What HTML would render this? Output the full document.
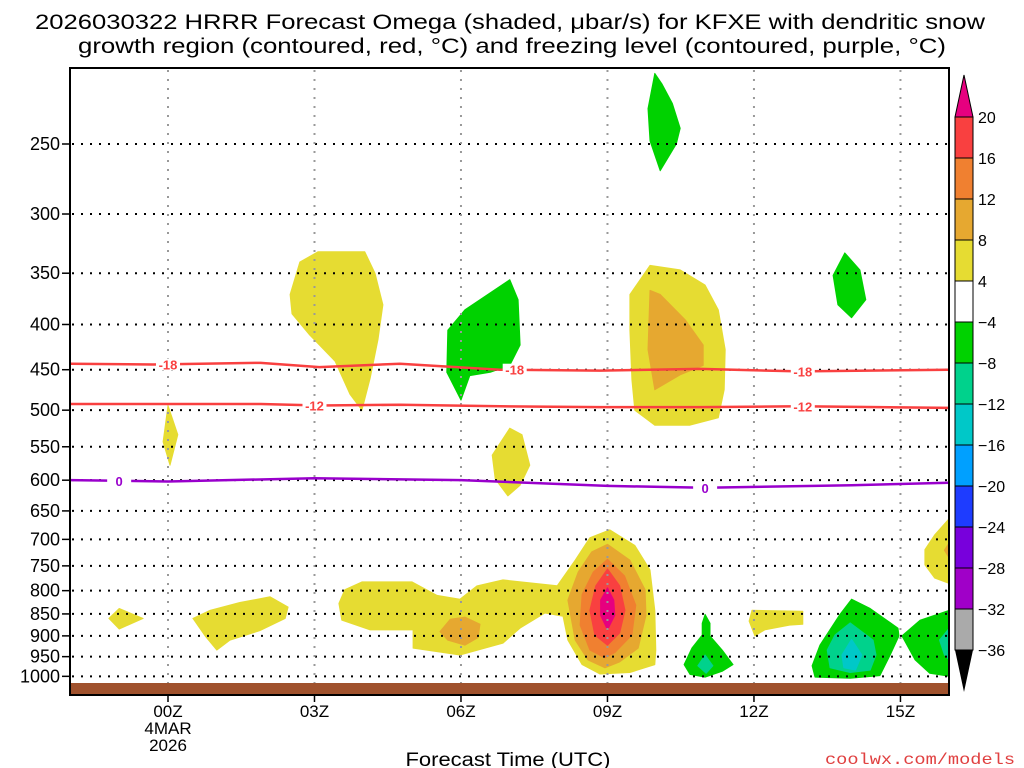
<!DOCTYPE html>
<html><head><meta charset="utf-8"><style>
html,body{margin:0;padding:0;background:#fff;}
svg{display:block;font-family:"Liberation Sans",sans-serif;}
</style></head><body>
<svg id="chart" width="1024" height="768" viewBox="0 0 1024 768" xmlns="http://www.w3.org/2000/svg">
<g font-size="21" fill="#000">
<text x="35" y="29" textLength="950" lengthAdjust="spacingAndGlyphs">2026030322 HRRR Forecast Omega (shaded, μbar/s) for KFXE with dendritic snow</text>
<text x="78" y="53" textLength="868" lengthAdjust="spacingAndGlyphs">growth region (contoured, red, °C) and freezing level (contoured, purple, °C)</text>
</g>
<g id="shades"></g>
<g id="grid"></g>
<rect x="70" y="683" width="879" height="12" fill="#a0522d"/>
<g id="lines"></g>
<rect x="70" y="68" width="879" height="627" fill="none" stroke="#000" stroke-width="2"/>
<g id="axes" font-size="18" fill="#000"></g>
<g id="cbar"></g>
<text x="508" y="766" font-size="19" text-anchor="middle" textLength="205" lengthAdjust="spacingAndGlyphs">Forecast Time (UTC)</text>
<text x="825" y="764" font-size="16" fill="#e04040" font-family="Liberation Mono, monospace" textLength="190" lengthAdjust="spacingAndGlyphs">coolwx.com/models</text>
</svg>
<script>
const pLevels=[250,300,350,400,450,500,550,600,650,700,750,800,850,900,950,1000];
const hourTicks=[0,3,6,9,12,15];
const hourLabels=["00Z","03Z","06Z","09Z","12Z","15Z"];
const cbLevels=[20,16,12,8,4,-4,-8,-12,-16,-20,-24,-28,-32,-36];
const cbColors=["#f94040","#f08030","#e6a830","#e6dc32","#ffffff","#00d200","#00d28c","#00c8c8","#00a0ff","#1e3cff","#7800dc","#a000c8","#aaaaaa"];
const C={y:"#e6dc32",o:"#e6a830",r:"#f08030",R:"#f94040",m:"#e6007f",g:"#00d200",t:"#00d28c",c:"#00c8c8"};
const regions=[
["g",[[9.97,208],[10.12,214],[10.33,225],[10.49,240],[10.41,250],[10.08,268],[9.87,248],[9.83,228]]],
["y",[[2.5,370],[2.7,340],[3.07,331],[4.03,331],[4.24,350],[4.4,380],[4.3,416],[4.14,460],[3.97,500],[3.73,480],[3.42,440],[2.9,411],[2.54,389]]],
["g",[[5.73,406],[6.08,385],[7.0,356],[7.17,375],[7.21,422],[7.0,445],[6.6,453],[6.18,457],[6.0,487],[5.71,453]]],
["y",[[9.46,370],[9.87,343],[10.49,347],[11.0,361],[11.27,385],[11.41,427],[11.39,474],[11.27,510],[10.69,520],[9.97,520],[9.56,500],[9.5,462],[9.46,406]]],
["o",[[9.87,366],[10.08,370],[10.59,395],[10.96,422],[10.96,445],[10.49,456],[9.97,474],[9.83,427]]],
["g",[[13.86,332],[14.17,347],[14.29,375],[14.0,393],[13.72,380],[13.62,352]]],
["y",[[0,494],[0.2,533],[0.04,577],[-0.1,543]]],
["y",[[7.0,524],[7.25,533],[7.41,577],[7.21,608],[6.96,625],[6.7,598],[6.64,562]]],
["y",[[-1.21,860],[-1.0,838],[-0.51,860],[-1.0,884]]],
["y",[[0.51,860],[0.86,842],[1.47,825],[2.09,813],[2.46,835],[2.4,860],[1.88,888],[1.27,910],[1.0,934],[0.76,900]]],
["y",[[3.5,827],[3.62,798],[3.97,782],[5.0,782],[5.51,810],[5.98,818],[6.33,790],[6.86,778],[7.97,790],[8.34,739],[8.64,697],[9.05,683],[9.56,711],[9.87,758],[9.97,842],[9.99,934],[9.97,970],[9.46,990],[8.85,994],[8.48,970],[8.19,910],[8.09,855],[7.72,848],[7.21,882],[6.86,917],[5.98,946],[5.02,929],[5.02,886],[4.14,886],[3.56,864]]],
["o",[[5.57,890],[5.78,862],[6.08,857],[6.39,873],[6.35,904],[6.08,922],[5.73,910]]],
["o",[[9.0,709],[9.46,739],[9.77,798],[9.79,853],[9.63,929],[9.25,963],[8.95,978],[8.6,958],[8.34,910],[8.19,820],[8.4,762],[8.68,723]]],
["r",[[9,737],[9.35,770],[9.58,831],[9.5,898],[9.15,940],[8.95,953],[8.64,934],[8.44,875],[8.48,808],[8.71,762]]],
["R",[[9,756],[9.25,790],[9.36,842],[9.25,893],[9,922],[8.74,898],[8.64,842],[8.76,790]]],
["m",[[9,794],[9.13,820],[9.15,853],[9,886],[8.86,853],[8.86,820]]],
["y",[[11.96,842],[13.0,844],[13.0,873],[12.73,875],[12.22,886],[12.02,900],[11.9,866]]],
["g",[[11.0,851],[11.1,871],[11.1,900],[11.35,934],[11.57,970],[11.35,987],[11.0,1002],[10.69,995],[10.57,970],[10.73,929],[10.94,898],[10.94,871]]],
["t",[[11,946],[11.16,973],[11.02,992],[10.85,973]]],
["g",[[14.0,818],[14.38,838],[14.95,882],[14.97,900],[14.79,946],[14.58,998],[13.97,1005],[13.25,1002],[13.19,973],[13.35,922],[13.76,851]]],
["t",[[13.97,870],[14.44,910],[14.5,946],[14.38,984],[13.97,990],[13.56,978],[13.5,934],[13.66,898]]],
["c",[[14.0,908],[14.21,946],[14.08,984],[13.84,978],[13.8,946]]],
["g",[[15.03,900],[15.4,864],[16,842],[16,1000],[15.6,992],[15.3,958]]],
["t",[[16,882],[15.8,910],[15.9,946],[16,958]]],
["y",[[16,663],[15.7,692],[15.5,719],[15.5,748],[15.7,774],[16,785]]],
["o",[[16,706],[15.9,720],[16,735]]]
];
const lineHours=[-2,-0.3,1.9,3.1,4.75,6.8,8.85,10.9,12.94,16];
const p18=[443,444,442,447,443,450,451,449,452,450];
const p12=[492,492,492,494,493,495,496,496,495,497];
const frzHours=[-2,0,3,6,9,11,14,16];
const frz=[600,602,597,600,609,612,608,604];
const labels18=[[0,444],[7.1,450],[13.0,452]];
const labels12=[[3,494],[13.0,495]];
const labels0=[[-1,601],[11,612]];

const NS="http://www.w3.org/2000/svg";
const X=h=>168+48.83*h;
const Y=p=>144+384*Math.log(p/250);
function mk(tag,attrs,parent){const e=document.createElementNS(NS,tag);for(const k in attrs)e.setAttribute(k,attrs[k]);parent.appendChild(e);return e;}
const clip=mk("clipPath",{id:"pc"},document.getElementById("chart"));
mk("rect",{x:70,y:68,width:879,height:627},clip);
const sh=document.getElementById("shades");sh.setAttribute("clip-path","url(#pc)");
regions.forEach((r,i)=>{
  const e=mk("polygon",{points:r[1].map(q=>X(q[0]).toFixed(1)+","+Y(q[1]).toFixed(1)).join(" "),fill:C[r[0]],"stroke":C[r[0]],"stroke-width":1,"stroke-linejoin":"round"},sh);
  
  
});
const gr=document.getElementById("grid");
pLevels.forEach(p=>{
  const e=mk("line",{x1:72,x2:948,y1:Y(p),y2:Y(p),stroke:"#000","stroke-width":2,"stroke-dasharray":"2 7"},gr);
  
  
});
hourTicks.forEach(h=>{
  const e=mk("line",{x1:X(h),x2:X(h),y1:70,y2:694,stroke:"#999","stroke-width":2,"stroke-dasharray":"2 7"},gr);
  
  
});
const ln=document.getElementById("lines");ln.setAttribute("clip-path","url(#pc)");
function poly(hs,ps,color,name){
  const e=mk("polyline",{points:hs.map((h,i)=>X(h)+","+Y(ps[i])).join(" "),fill:"none",stroke:color,"stroke-width":2.5},ln);
  
  
}
poly(lineHours,p18,"#f94040","contour-minus18");
poly(lineHours,p12,"#f94040","contour-minus12");
poly(frzHours,frz,"#9900cc","freezing-level");
function lab(list,txt,color){list.forEach(q=>{
  const bg=mk("rect",{x:X(q[0])-12,y:Y(q[1])-6,width:24,height:12,fill:"#fff"},ln);
  
  
  const t=mk("text",{x:X(q[0]),y:Y(q[1])+5,"text-anchor":"middle","font-size":13,"font-weight":"bold",fill:color},ln);
  t.textContent=txt;
  
  
});}
lab(labels18,"-18","#f94040");lab(labels12,"-12","#f94040");lab(labels0,"0","#9900cc");
const ax=document.getElementById("axes");
pLevels.forEach(p=>{
  const t=mk("text",{x:60,y:Y(p)+6,"text-anchor":"end"},ax);t.textContent=p;
  
  
  const k=mk("line",{x1:62,x2:70,y1:Y(p),y2:Y(p),stroke:"#000","stroke-width":1.5},ax);
  
  
});
hourTicks.forEach((h,i)=>{
  const t=mk("text",{x:X(h),y:717,"text-anchor":"middle","font-size":17},ax);t.textContent=hourLabels[i];
  
  
  const k=mk("line",{x1:X(h),x2:X(h),y1:695,y2:702,stroke:"#000","stroke-width":1.5},ax);
  
  
});
[["4MAR",734],["2026",751]].forEach(a=>{const t=mk("text",{x:X(0),y:a[1],"text-anchor":"middle","font-size":17},ax);t.textContent=a[0];
  
  });
const cb=document.getElementById("cbar");
const cbTop=117,cbStep=41,cx=955,cw=18;
let e=mk("polygon",{points:`${cx},${cbTop} ${cx+cw},${cbTop} ${cx+cw/2},75`,fill:"#e6007f",stroke:"#000"},cb);


cbColors.forEach((c,i)=>{
  const r=mk("rect",{x:cx,y:cbTop+i*cbStep,width:cw,height:cbStep,fill:c,stroke:"#000","stroke-width":1},cb);
  
  
});
const cbBot=cbTop+cbColors.length*cbStep;
e=mk("polygon",{points:`${cx},${cbBot} ${cx+cw},${cbBot} ${cx+cw/2},${cbBot+42}`,fill:"#000"},cb);


cbLevels.forEach((v,i)=>{
  const t=mk("text",{x:978,y:cbTop+i*cbStep+6,"font-size":16},cb);
  t.textContent=v<0?"\u2212"+(-v):String(v);
  
  
});
</script>
</body></html>
